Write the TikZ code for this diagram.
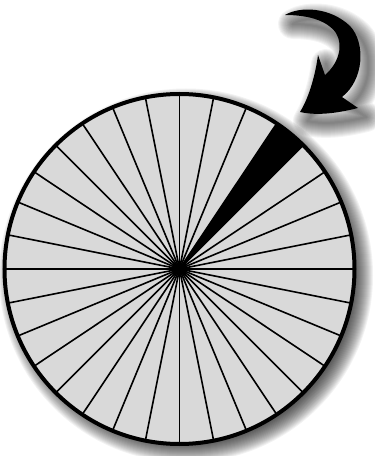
\documentclass[tikz,border=0pt]{standalone}
\usepackage{xcolor}
\usepackage{tikz}
\usetikzlibrary{calc}
\definecolor{wheelgray}{HTML}{D9D9D9}
\definecolor{shadowgray}{HTML}{000000}

\begin{document}
\begin{tikzpicture}[x=1pt, y=1pt,
  rimline/.style={line width=4pt, draw=black},
  spokeline/.style={line width=1.6pt, draw=black},
  softshadow/.style={fill=shadowgray, opacity=0.05},
]
\useasboundingbox (0,0) rectangle (375,456);
\def\R{175}
\coordinate (hub) at (179.5,187);
\coordinate (hubshadow) at (186,180.5);
% soft shadow under the wheel
\foreach \k in {0,...,18} {
  \fill[softshadow] (hubshadow) circle[radius=\R+\k-6];
}
% arrow outline, reused for its shadow
\def\arrowpath{(285,441) .. controls (300,450) and (330,449) .. (350,430)
  .. controls (366,413) and (364,376) .. (342,359) -- (358,348)
  .. controls (338,343) and (318,340) .. (300,344)
  .. controls (310,360) and (316,385) .. (318,401) -- (325,381)
  .. controls (338,392) and (344,410) .. (336,423)
  .. controls (326,437) and (305,441) .. (285,441) -- cycle}
% soft shadow under the arrow
\foreach \w in {2,4,...,30} {
  \draw[draw=shadowgray, opacity=0.045, line width=\w pt, line join=round,
    shift={(8,-9)}] \arrowpath;
}
% wheel face
\fill[wheelgray] (hub) circle[radius=\R];
% black sector
\fill[black] (hub) -- ++(45:\R) arc[start angle=45, end angle=56.25, radius=\R] -- cycle;
% 32 spokes
\foreach \a in {0,11.25,...,349} {
  \draw[spokeline] (hub) -- ++(\a:\R);
}
\fill[black] (hub) circle[radius=3.5];
\draw[rimline] (hub) circle[radius=\R];
% curved arrow
\fill[black] \arrowpath;
\end{tikzpicture}
\end{document}
